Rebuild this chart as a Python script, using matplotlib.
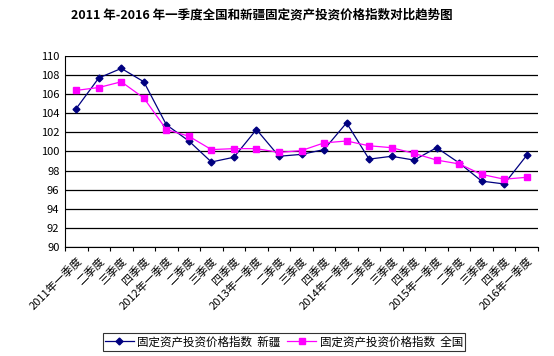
import matplotlib
matplotlib.use("Agg")
import matplotlib.pyplot as plt
import numpy as np

plt.rcParams['font.family'] = ['Noto Sans CJK SC', 'DejaVu Sans']

# 季度标签
quarters = ["2011年一季度", "二季度", "三季度", "四季度",
            "2012年一季度", "二季度", "三季度", "四季度",
            "2013年一季度", "二季度", "三季度", "四季度",
            "2014年一季度", "二季度", "三季度", "四季度",
            "2015年一季度", "二季度", "三季度", "四季度",
            "2016年一季度"]

# 新疆
xinjiang = [104.5, 107.7, 108.7, 107.3, 102.8, 101.1, 98.9, 99.4, 102.3,
            99.5, 99.7, 100.2, 103.0, 99.2, 99.5, 99.1, 100.4, 98.8,
            96.9, 96.6, 99.6]
# 全国
national = [106.4, 106.7, 107.3, 105.6, 102.3, 101.6, 100.2, 100.3, 100.3,
            99.9, 100.1, 100.9, 101.1, 100.6, 100.4, 99.8, 99.1, 98.7,
            97.6, 97.1, 97.3]

fig = plt.figure(figsize=(5.54, 3.56), dpi=100)
ax = fig.add_axes([65 / 554, 1 - 247 / 356, (538 - 65) / 554, (247 - 56) / 356])

x = np.arange(len(quarters))
ax.plot(x, xinjiang, color="#000080", marker="D", markersize=3.5, lw=0.9,
        label="固定资产投资价格指数  新疆")
ax.plot(x, national, color="#FF00FF", marker="s", markersize=4, lw=0.9,
        label="固定资产投资价格指数  全国")

ax.set_xlim(-0.5, len(quarters) - 0.5)
ax.set_ylim(90, 110)
ax.set_yticks(np.arange(90, 111, 2))
ax.yaxis.grid(True, color="black", lw=0.9)
ax.set_axisbelow(True)
ax.tick_params(axis="y", length=0, labelsize=8, pad=4)

# 刻度线画在类别之间
ax.set_xticks(np.arange(-0.5, len(quarters), 1))
ax.set_xticklabels([])
ax.tick_params(axis="x", which="major", length=3, direction="out", color="black")
ax.set_xticks(x, minor=True)
ax.set_xticklabels(quarters, minor=True, rotation=45, ha="right",
                   rotation_mode="anchor", fontsize=8)
ax.tick_params(axis="x", which="minor", length=0, pad=6)

for s in ["top", "right"]:
    ax.spines[s].set_visible(False)
ax.spines["left"].set_color("black")
ax.spines["bottom"].set_color("black")

fig.suptitle("2011 年-2016 年一季度全国和新疆固定资产投资价格指数对比趋势图",
             fontsize=9, fontweight="bold", y=0.975, x=262 / 554)

leg = fig.legend(loc="center", bbox_to_anchor=(284 / 554, 1 - 342 / 356), ncol=2,
                 fontsize=8.3, frameon=True, fancybox=False, edgecolor="black",
                 handlelength=2.5, columnspacing=0.6, handletextpad=0.3,
                 borderpad=0.2)
leg.get_frame().set_linewidth(0.8)

fig.savefig("out.png", dpi=100)
